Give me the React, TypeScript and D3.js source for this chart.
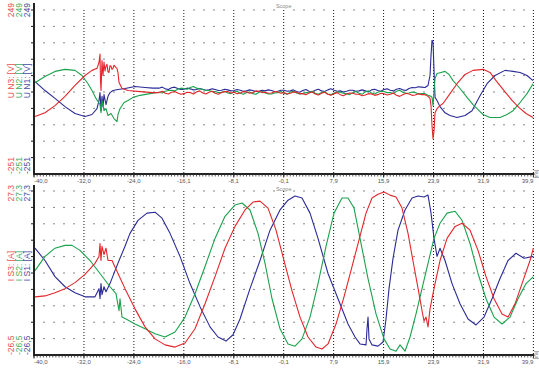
import React from "react";
import * as d3 from "d3";

// ---------- axis text ----------
const X_TICKS_TOP = ["-40,0", "-32,0", "-24,0", "-16,1", "-8,1", "-0,1", "7,9", "15,9", "23,9", "31,9", "39,9"];
const X_TICKS_BOT = ["-40,0", "-32,0", "-24,0", "-16,0", "-8,1", "-0,1", "7,9", "15,9", "23,9", "31,9", "39,9"];
const TOP_NAMES = ["U N3: [V]", "U N2: [V]", "U N1: [V]"];
const BOT_NAMES = ["I S3: [A]", "I S2: [A]", "I S1: [A]"];
const TOP_MAX = "249";
const TOP_MIN = "-251";
const BOT_MAX = "27,3";
const BOT_MIN = "-26,5";
const TITLE = "Scope";

// ---------- top panel: voltages [t(ms), V] ----------
const U_N3_LEFT: [number, number][] = [
  [-39.84, -83], [-38.24, -72], [-36.64, -51], [-35.04, -24], [-33.44, 8], [-31.84, 37], [-30.72, 52], [-29.92, 58],
  [-29.6, 75], [-29.44, 100], [-29.36, 20], [-29.28, -7], [-29.12, 81], [-28.96, 37], [-28.8, 76], [-28.64, 50],
  [-28.48, 64], [-28.32, 70], [-28.16, 48], [-28.0, 46], [-27.84, 66], [-27.68, 64], [-27.52, 55], [-27.36, 58],
  [-27.2, 67], [-27.04, 64], [-26.88, 60], [-26.72, 58], [-26.56, 45], [-26.4, 17], [-26.08, 5], [-25.92, -1],
  [-24.96, -7], [-23, -10], [-21, -13],
];
const U_N3_MID = [
  -13, -9, -15, -17, -12, -10, -14, -18, -16, -12, -13, -17, -11, -8, -14, -17, -12, -9, -15, -18,
  -13, -10, -10, -14, -12, -16, -14, -10, -11, -15, -13, -8, -9, -13, -12, -15, -14, -10, -11, -15,
  -13, -17, -15, -11, -12, -16, -16, -19, -14, -11, -17, -20, -15, -12, -18, -21, -16, -13, -19, -22,
  -17, -14, -15, -18, -18, -22, -20, -16, -17, -21, -19, -15, -16, -20, -18, -14, -21, -24, -19, -15,
  -17, -21, -20, -16, -19,
];
const U_N3_RIGHT: [number, number][] = [
  [22.56, -19], [23.04, -24], [23.36, -30], [23.52, -51], [23.68, -110], [23.84, -148], [24.0, -125], [24.16, -72],
  [24.48, -60], [24.96, -51], [25.44, -45], [26.56, -16], [27.68, 13], [28.96, 40], [30.24, 52], [31.84, 55],
  [32.96, 46], [33.92, 22], [35.2, -7], [36.48, -36], [37.6, -57], [38.72, -74], [39.84, -86],
];

const U_N2_LEFT: [number, number][] = [
  [-39.84, 16], [-38.24, 34], [-36.64, 49], [-35.04, 55], [-33.44, 52], [-32.32, 37], [-31.36, 13], [-30.72, -7],
  [-30.08, -30], [-29.44, -48], [-29.28, -72], [-29.12, -36], [-28.8, -66], [-28.48, -60], [-28.16, -80], [-27.68, -74],
  [-27.2, -89], [-26.72, -98], [-26.56, -77], [-26.24, -60], [-25.6, -42], [-24.96, -36], [-24.16, -27], [-23.04, -21],
  [-21.44, -16],
];
const U_N2_MID = [
  -12, -14, -9, -7, -6, -8, -3, 0, -1, -3, 2, 5, 0, -2, -4, -7, -7, -10, -10, -13,
  -12, -9, -14, -16, -11, -9, -15, -18, -13, -11, -16, -18, -12, -10, -14, -17, -17, -14, -13, -10,
  -15, -18, -11, -9, -14, -17, -16, -13, -12, -9, -15, -18, -13, -10, -17, -19, -14, -11, -12, -15,
  -16, -19, -13, -10, -15, -18, -11, -8, -14, -17, -12, -9, -10, -13, -13, -16, -9, -6, -12, -15,
  -14, -11, -13, -17, -16,
];
const U_N2_RIGHT: [number, number][] = [
  [22.56, -16], [23.04, -21], [23.52, -24], [23.68, -27], [23.84, -51], [24.0, -7], [24.16, 28], [24.48, 43],
  [25.12, 46], [25.76, 49], [26.4, 40], [27.04, 22], [28.16, -1], [29.28, -27], [30.24, -48], [30.88, -60],
  [31.84, -77], [32.96, -86], [34.56, -86], [35.68, -77], [36.64, -66], [37.76, -42], [38.88, -16], [39.84, 13],
];

const U_N1_LEFT: [number, number][] = [
  [-39.84, 19], [-38.24, -7], [-36.64, -30], [-35.04, -54], [-33.44, -74], [-31.84, -83], [-30.72, -77], [-29.92, -60],
  [-29.6, -36], [-29.44, -13], [-29.28, -66], [-29.12, -24], [-28.96, -54], [-28.8, -19], [-28.48, -48], [-28.16, -24],
  [-27.84, -13], [-27.36, -7], [-26.56, -4], [-25.44, -1], [-23.84, 5], [-22.24, 2], [-21, 0],
];
const U_N1_MID = [
  0, 3, -2, -4, 1, 3, -1, -4, -3, 0, -2, -5, -4, -1, -3, -6, -5, -2, -4, -7,
  -6, -3, -5, -8, -7, -4, -6, -9, -8, -5, -7, -10, -9, -6, -8, -5, -7, -10, -9, -6,
  -6, -9, -8, -5, -10, -12, -7, -4, -9, -11, -6, -3, -8, -10, -5, -2, -6, -9, -8, -11,
  -9, -6, -6, -9, -8, -5, -8, -11, -5, -3, -7, -9, -4, -2, -6, -8, -3, -1, -5, -7,
  -1, 2, 1, 4, 3,
];
const U_N1_RIGHT: [number, number][] = [
  [22.56, 2], [23.04, 8], [23.36, 37], [23.52, 96], [23.68, 140], [23.84, 134], [24.0, 52], [24.16, -27],
  [24.48, -36], [24.96, -54], [25.76, -72], [26.56, -80], [27.68, -86], [28.96, -80], [30.08, -66], [31.36, -22],
  [32.48, 13], [33.76, 37], [35.36, 52], [36.64, 49], [37.76, 46], [38.88, 37], [39.84, 22],
];
const MID_T0 = -20; // first ms of the flat middle part
const MID_STEP = 0.5;

// ---------- bottom panel: currents [t(ms), A] ----------
const I_S3: [number, number][] = [
  [-39.84, -8.1], [-38.24, -7.8], [-36.64, -6.8], [-35.04, -5.5], [-33.44, -3.6], [-31.84, -1.0], [-30.24, 2.5], [-29.6, 4.7],
  [-29.44, 8.8], [-29.28, 3.4], [-29.12, 7.9], [-28.8, 5.3], [-28.48, 7.3], [-28.16, 3.4], [-27.52, 3.4], [-26.56, -0.7],
  [-25.44, -5.5], [-23.84, -11.9], [-22.24, -17.6], [-20.64, -21.4], [-19.04, -23.3], [-17.44, -24.0], [-15.84, -22.7], [-14.24, -18.2],
  [-12.64, -10.3], [-11.04, -1.7], [-9.44, 7.3], [-7.84, 14.2], [-6.24, 19.4], [-4.96, 21.9], [-3.84, 22.2], [-2.56, 20.0],
  [-1.28, 13.0], [0, 3.4], [1.28, -6.2], [2.56, -14.5], [3.84, -20.8], [5.12, -24.0], [6.08, -24.6], [7.04, -23.0],
  [8.32, -16.7], [9.6, -8.1], [10.88, 1.5], [12.16, 11.1], [13.12, 18.4], [14.08, 23.2], [15.04, 24.4], [16.0, 25.1],
  [16.96, 24.1], [17.92, 23.5], [18.88, 20.0], [19.84, 12.0], [20.8, 1.5], [21.6, -7.1], [22.08, -12.5], [22.4, -15.7],
  [22.72, -14.5], [23.04, -17.6], [23.36, -11.9], [24.0, -5.5], [24.96, 3.4], [26.08, 10.4], [27.36, 14.2], [28.48, 15.2],
  [29.76, 13.0], [31.04, 6.6], [32.32, -1.7], [33.6, -8.7], [34.88, -13.5], [35.84, -14.5], [36.96, -10.3], [38.08, -3.9],
  [39.36, 3.4], [39.9, 7.3],
];
const I_S2: [number, number][] = [
  [-39.84, 0.2], [-38.24, 4.7], [-36.64, 7.3], [-35.04, 8.2], [-33.92, 8.2], [-32.64, 6.6], [-31.04, 3.4], [-29.44, -0.7],
  [-27.84, -4.9], [-26.88, -7.1], [-26.4, -12.5], [-26.24, -8.7], [-25.92, -14.5], [-25.28, -15.1], [-23.84, -16.7], [-22.24, -18.2],
  [-20.64, -19.8], [-19.04, -20.8], [-17.44, -19.2], [-15.84, -14.5], [-14.24, -7.1], [-12.64, 1.5], [-11.04, 10.4], [-9.44, 17.4],
  [-7.84, 21.0], [-6.72, 21.6], [-5.44, 19.4], [-4.16, 12.0], [-3.04, 2.5], [-1.92, -8.7], [-0.64, -18.2], [0.64, -23.0],
  [1.76, -23.7], [2.88, -21.4], [4.16, -14.5], [5.44, -3.9], [6.72, 7.9], [8.0, 18.4], [9.28, 23.2], [10.24, 23.2],
  [11.2, 20.0], [12.16, 10.4], [13.44, -2.3], [14.72, -13.5], [16.0, -21.4], [16.96, -24.6], [17.92, -25.3], [18.56, -23.3],
  [19.36, -25.3], [20.16, -20.8], [21.12, -13.5], [22.08, -5.5], [23.04, 2.5], [24.0, 10.4], [24.96, 15.2], [26.08, 18.4],
  [27.36, 19.0], [28.48, 16.1], [29.76, 8.8], [31.04, -0.7], [32.32, -8.7], [33.6, -14.5], [34.88, -16.7], [36.16, -14.5],
  [37.44, -8.7], [38.72, -3.9], [39.9, -1.7],
];
const I_S1: [number, number][] = [
  [-39.84, 7.3], [-38.24, 3.4], [-36.64, -1.7], [-35.04, -4.9], [-33.44, -6.8], [-31.84, -8.1], [-30.24, -8.1], [-29.6, -5.5],
  [-29.44, -8.7], [-29.28, -3.9], [-29.12, -7.4], [-28.8, -4.9], [-28.48, -6.5], [-27.84, -3.9], [-27.04, 0.2], [-26.24, 4.1],
  [-25.44, 7.9], [-24.64, 12.0], [-23.36, 16.1], [-21.92, 18.4], [-20.64, 18.7], [-19.52, 16.8], [-18.24, 12.0], [-16.64, 4.7],
  [-15.04, -3.9], [-13.44, -11.2], [-11.84, -17.6], [-10.56, -20.8], [-9.28, -22.1], [-8.16, -20.1], [-7.04, -15.1], [-5.44, -5.5],
  [-3.84, 3.4], [-2.24, 13.0], [-0.64, 19.4], [0.64, 22.5], [1.76, 23.8], [2.88, 23.2], [4.16, 18.4], [5.44, 10.4],
  [7.04, -0.7], [8.64, -8.7], [10.24, -16.7], [11.36, -20.8], [12.16, -23.0], [13.12, -23.3], [13.28, -18.2], [13.44, -14.5],
  [13.6, -21.4], [14.08, -23.3], [15.04, -23.7], [15.84, -22.4], [16.32, -15.1], [16.8, -5.5], [17.44, 4.1], [18.24, 13.0],
  [19.36, 19.4], [20.48, 23.2], [21.44, 23.8], [22.4, 23.5], [23.04, 24.1], [23.52, 18.4], [24.0, 10.4], [24.48, 4.7],
  [24.96, 7.3], [25.76, 3.4], [26.88, -3.9], [28.16, -10.3], [29.44, -15.1], [30.72, -17.0], [32.0, -14.5], [33.28, -8.7],
  [34.56, -2.3], [35.84, 3.4], [37.12, 5.7], [38.4, 4.1], [39.9, 4.7],
];

// ---------- layout / style ----------
const W = 539;
const H = 371;
const X0 = 34;
const X1 = 533.4;
const LINE_COLORS = ["#e3262b", "#1ba24c", "#2b2b96"]; // phase 3, 2, 1
const LABEL_COLORS = ["#e5504f", "#3aae5e", "#4b4ba3"];
const FONT = "Liberation Sans, Arial, sans-serif";

const withMid = (left: [number, number][], mid: number[], right: [number, number][]) =>
  [...left, ...mid.map((v, i) => [MID_T0 + i * MID_STEP, v] as [number, number]), ...right];

const xScale = d3.scaleLinear().domain([-40, 39.9]).range([X0, X1]);
const tickTimes = d3.range(11).map((i) => -40 + i * 7.99);
const minorTimes = d3.range(0, 160).map((i) => -40 + i * 0.5);

type PanelProps = {
  top: number;
  bottom: number;
  domain: [number, number];
  series: [number, number][][];
  names: string[];
  maxLabel: string;
  minLabel: string;
  tickLabels: string[];
  nameY: number;
  titleY: number;
};

function Panel({ top, bottom, domain, series, names, maxLabel, minLabel, tickLabels, nameY, titleY }: PanelProps) {
  const y = d3.scaleLinear().domain(domain).range([bottom, top]);
  const line = d3
    .line<[number, number]>()
    .x((d) => xScale(d[0]))
    .y((d) => y(d[1]));
  const rows = d3.range(1, 11).map((k) => bottom - k * 16.4).filter((r) => r >= top);
  const cols = d3.range(1, 50).filter((j) => j % 5 !== 0).map((j) => X0 + 10 * j);
  const gridTop = rows[rows.length - 1];
  const order = [2, 1, 0];
  return (
    <g>
      <text x={(X0 + X1) / 2} y={titleY} fontSize={5.5} fill="#8a8a8a" textAnchor="middle" fontFamily={FONT}>
        {TITLE}
      </text>
      {rows.map((r) =>
        cols.map((c) => <rect key={`${r}-${c}`} x={c - 0.5} y={r - 0.5} width={1} height={1} fill="#111" />)
      )}
      {tickTimes.slice(1).map((t) => (
        <line key={t} x1={xScale(t)} x2={xScale(t)} y1={gridTop} y2={bottom} stroke="#111" strokeWidth={1} strokeDasharray="1,2" />
      ))}
      {order.map((i) => (
        <path key={i} d={line(series[i]) || ""} fill="none" stroke={LINE_COLORS[i]} strokeWidth={1.1} strokeLinejoin="round" />
      ))}
      <line x1={X0 - 1} x2={X1 + 1} y1={bottom} y2={bottom} stroke="#222" strokeWidth={2} />
      {minorTimes.map((t) => (
        <line key={t} x1={xScale(t)} x2={xScale(t)} y1={bottom} y2={bottom + 2.5} stroke="#333" strokeWidth={0.8} />
      ))}
      {tickTimes.map((t, i) => (
        <g key={t}>
          <line x1={xScale(t)} x2={xScale(t)} y1={bottom} y2={bottom + 3.5} stroke="#222" strokeWidth={1} />
          <text
            x={xScale(t)}
            y={bottom + 8.5}
            fontSize={6}
            fill="#555"
            textAnchor={i === 0 ? "start" : i === tickTimes.length - 1 ? "end" : "middle"}
            fontFamily={FONT}
          >
            {tickLabels[i]}
          </text>
        </g>
      ))}
      <text transform={`translate(538,${bottom}) rotate(-90)`} fontSize={4.5} fill="#777" textAnchor="middle" fontFamily={FONT}>
        [ms]
      </text>
      <line x1={X0} x2={X0} y1={top} y2={bottom + 1} stroke="#222" strokeWidth={2} />
      {rows.map((r) => (
        <line key={r} x1={X0 - 3} x2={X0} y1={r} y2={r} stroke="#222" strokeWidth={1} />
      ))}
      {names.map((n, i) => {
        const bx = 13.5 + 8 * i;
        const style = { fontFamily: FONT, fontSize: 8.5, fill: LABEL_COLORS[i] };
        return (
          <g key={n}>
            <text transform={`translate(${bx},${top}) rotate(-90)`} textAnchor="end" style={style}>
              {maxLabel}
            </text>
            <text transform={`translate(${bx},${nameY}) rotate(-90)`} textAnchor="middle" style={style}>
              {n}
            </text>
            <text transform={`translate(${bx},${bottom}) rotate(-90)`} textAnchor="start" style={style}>
              {minLabel}
            </text>
          </g>
        );
      })}
    </g>
  );
}

export default function App() {
  const topSeries = [
    withMid(U_N3_LEFT, U_N3_MID, U_N3_RIGHT),
    withMid(U_N2_LEFT, U_N2_MID, U_N2_RIGHT),
    withMid(U_N1_LEFT, U_N1_MID, U_N1_RIGHT),
  ];
  const botSeries = [I_S3, I_S2, I_S1];
  return (
    <div style={{ position: "fixed", left: 0, top: 0, width: W, height: H, background: "#fff" }}>
      <svg width={W} height={H} viewBox={`0 0 ${W} ${H}`}>
        <rect width={W} height={H} fill="#fff" />
        <Panel
          top={3}
          bottom={174}
          domain={[-251, 249]}
          series={topSeries}
          names={TOP_NAMES}
          maxLabel={TOP_MAX}
          minLabel={TOP_MIN}
          tickLabels={X_TICKS_TOP}
          nameY={81}
          titleY={8}
        />
        <Panel
          top={185}
          bottom={355}
          domain={[-26.5, 27.3]}
          series={botSeries}
          names={BOT_NAMES}
          maxLabel={BOT_MAX}
          minLabel={BOT_MIN}
          tickLabels={X_TICKS_BOT}
          nameY={266}
          titleY={191}
        />
      </svg>
    </div>
  );
}
